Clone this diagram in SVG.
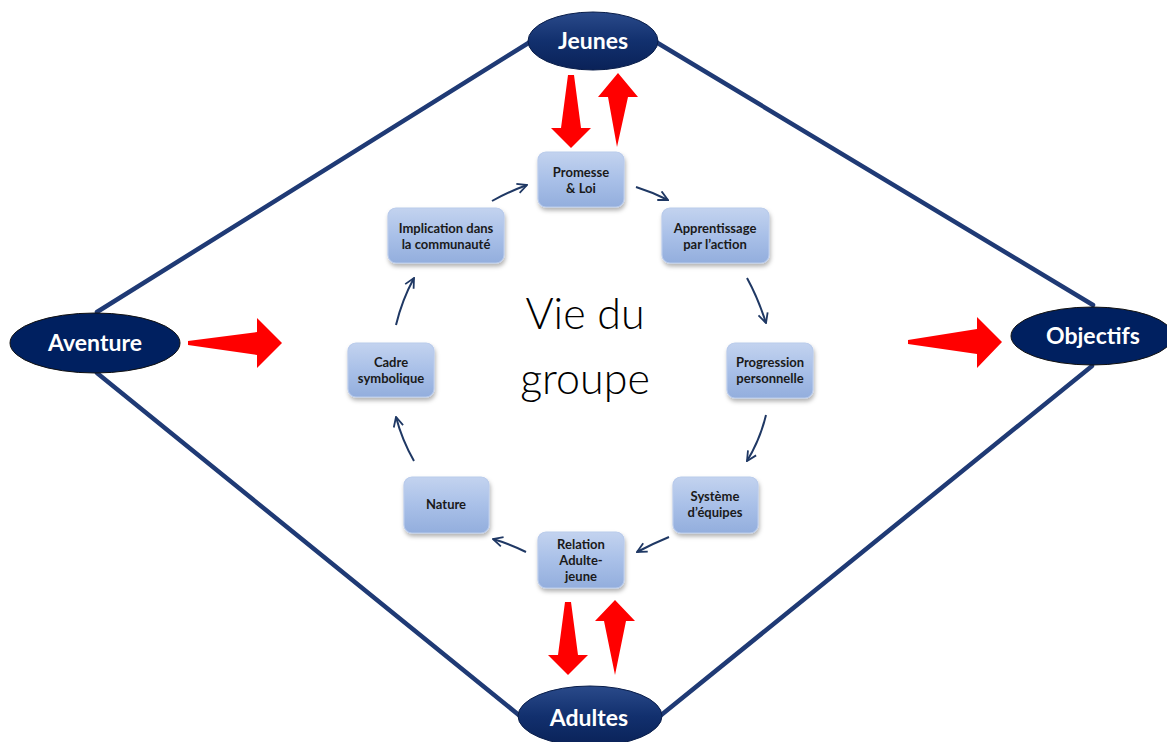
<svg xmlns="http://www.w3.org/2000/svg" width="1167" height="742" viewBox="0 0 1167 742">
<defs>
<style>
.frame{stroke:#1F3A75;stroke-width:4.5;fill:none;stroke-linecap:round}
.red{fill:#FF0000}
.box{fill:url(#boxg);stroke:#B9CBEB;stroke-width:1.2;filter:url(#sh)}
.bt{font-family:Lato,"Open Sans",sans-serif;font-weight:bold;font-size:13px;fill:#1a1a1a;text-anchor:middle}
.et{font-family:Lato,"Open Sans",sans-serif;font-weight:bold;font-size:23px;fill:#ffffff;text-anchor:middle}
.flow{stroke:#1F3864;stroke-width:2;fill:none;marker-end:url(#chev)}
.vie{font-family:"Segoe Print","Comic Sans MS",Lato,cursive;font-size:43px;font-weight:300;fill:#000000;text-anchor:middle}
</style>
<linearGradient id="boxg" x1="0" y1="0" x2="0" y2="1">
<stop offset="0" stop-color="#C3D3EF"/>
<stop offset="0.5" stop-color="#A9C0E8"/>
<stop offset="1" stop-color="#93AEDD"/>
</linearGradient>
<linearGradient id="ellg" x1="0" y1="0" x2="0" y2="1">
<stop offset="0" stop-color="#2A4A8A"/>
<stop offset="0.5" stop-color="#12306E"/>
<stop offset="1" stop-color="#0A2258"/>
</linearGradient>
<filter id="sh" x="-20%" y="-20%" width="140%" height="150%">
<feDropShadow dx="1" dy="3" stdDeviation="2" flood-color="#000" flood-opacity="0.3"/>
</filter>
<marker id="chev" viewBox="0 0 10 10" refX="9" refY="5" markerWidth="12" markerHeight="12" orient="auto" markerUnits="userSpaceOnUse">
<path d="M1,1 L9,5 L1,9" fill="none" stroke="#1F3864" stroke-width="1.5"/>
</marker>
</defs>
<rect width="1167" height="742" fill="#ffffff"/>

<g id="connectors">
<line class="frame" x1="97" y1="312" x2="530" y2="42"/>
<line class="frame" x1="656" y1="42" x2="1093" y2="305"/>
<line class="frame" x1="97" y1="373" x2="520" y2="716"/>
<line class="frame" x1="1092" y1="366" x2="660" y2="716"/>

<polygon class="red" points="568,75 574,75 581,128 591,128 571,148 551,128 561,128"/>
<polygon class="red" points="618,73 638,97 628,97 617,147 608,97 598,97"/>
<polygon class="red" points="565,602 571,602 578,655 588,655 568,675 548,655 558,655"/>
<polygon class="red" points="615,600 635,621 626,621 615,675 604,621 595,621"/>
<polygon class="red" points="188,341 257,332 257,318 282,343 257,368 257,355 188,345"/>
<polygon class="red" points="908,340 977,329 977,317 1002,342 977,368 977,354 908,344"/>

<path class="flow" d="M492,201 Q508,192 527,185"/>
<path class="flow" d="M636,187 Q652,192 668,200"/>
<path class="flow" d="M747,278 Q758,298 766,323"/>
<path class="flow" d="M766,415 Q760,440 747,461"/>
<path class="flow" d="M669,537 Q652,544 637,552"/>
<path class="flow" d="M526,552 Q510,544 493,539"/>
<path class="flow" d="M414,461 Q402,440 396,417"/>
<path class="flow" d="M396,325 Q402,300 414,278"/>
</g>

<g id="jeunes">
<ellipse cx="593" cy="41" rx="65" ry="29" fill="url(#ellg)" stroke="#0A1E4A" stroke-width="1"/>
<text class="et" x="593" y="49">Jeunes</text>
</g>
<g id="aventure">
<ellipse cx="95" cy="343" rx="85" ry="30" fill="#002060" stroke="#111" stroke-width="1"/>
<text class="et" x="95" y="351">Aventure</text>
</g>
<g id="objectifs">
<ellipse cx="1092" cy="336" rx="81" ry="29" fill="#002060" stroke="#111" stroke-width="1"/>
<text class="et" x="1093" y="344">Objectifs</text>
</g>
<g id="adultes">
<ellipse cx="590" cy="716" rx="72" ry="30" fill="url(#ellg)" stroke="#0A1E4A" stroke-width="1"/>
<text class="et" x="589" y="726">Adultes</text>
</g>

<g id="promesse">
<rect class="box" x="538" y="152" width="86" height="55" rx="8"/>
<text class="bt" x="581" y="177">Promesse</text>
<text class="bt" x="581" y="193">&amp; Loi</text>
</g>
<g id="implication">
<rect class="box" x="388" y="208" width="116" height="55" rx="8"/>
<text class="bt" x="446" y="233">Implication dans</text>
<text class="bt" x="446" y="249">la communauté</text>
</g>
<g id="apprentissage">
<rect class="box" x="662" y="208" width="107" height="55" rx="8"/>
<text class="bt" x="715" y="233">Apprentissage</text>
<text class="bt" x="715" y="249">par l’action</text>
</g>
<g id="cadre">
<rect class="box" x="348" y="343" width="86" height="54" rx="8"/>
<text class="bt" x="391" y="367">Cadre</text>
<text class="bt" x="391" y="383">symbolique</text>
</g>
<g id="progression">
<rect class="box" x="727" y="343" width="86" height="55" rx="8"/>
<text class="bt" x="770" y="367">Progression</text>
<text class="bt" x="770" y="383">personnelle</text>
</g>
<g id="nature">
<rect class="box" x="404" y="477" width="85" height="56" rx="8"/>
<text class="bt" x="446" y="509">Nature</text>
</g>
<g id="systeme">
<rect class="box" x="673" y="477" width="85" height="56" rx="8"/>
<text class="bt" x="715" y="501">Système</text>
<text class="bt" x="715" y="517">d’équipes</text>
</g>
<g id="relation">
<rect class="box" x="538" y="532" width="86" height="56" rx="8"/>
<text class="bt" x="581" y="549">Relation</text>
<text class="bt" x="581" y="565">Adulte-</text>
<text class="bt" x="581" y="581">jeune</text>
</g>

<g id="vie-du-groupe">
<text class="vie" x="585" y="329">Vie du</text>
<text class="vie" x="585" y="394">groupe</text>
</g>
</svg>
